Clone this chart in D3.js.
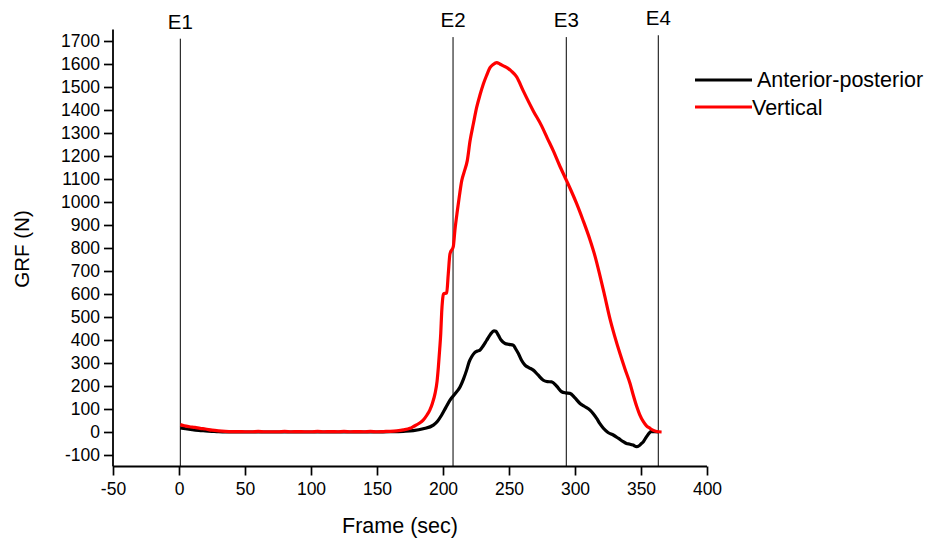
<!DOCTYPE html>
<html><head><meta charset="utf-8">
<script src="https://cdn.jsdelivr.net/npm/d3@7"></script>
<style>
body{margin:0;background:#fff;}
text{font-family:"Liberation Sans",Arial,sans-serif;fill:#000;}
</style></head>
<body><svg id="c" width="934" height="545"></svg>
<script>
// ---- data ----
const vertFrames = [1,4,8,12,16,20,25,30,35,40,45,50,55,60,65,70,75,80,85,90,95,100,105,110,115,120,125,130,135,140,145,150,155,160,165,170,175,178,182,185,188,190,192,194,195.5,196.5,197.5,198.3,199,199.6,200.3,202.8,204,205.3,207.8,209,210.9,212.5,214.2,216,218.4,220.5,223,225.5,228,230.5,233,235.6,238,240.7,243,245.7,249,252,255.8,260.8,268.4,274.7,279,283.6,288,293.6,297,301.1,306,311.4,315,318.9,322,326.5,330,334,338,341.7,344,346.7,349,351.8,354,356.8,359,361.9,365.6];
const vertValues = [32,27,23,20,16,13,8,5,3,2,2,1,1,3,1,1,1,3,1,2,1,1,3,1,2,1,3,1,2,1,3,1,2,3,5,9,16,25,38,52,75,95,125,168,220,283,360,429,520,570,600,605,688,775,806,876,963,1030,1093,1130,1180,1266,1340,1411,1465,1512,1550,1584,1598,1606,1600,1592,1582,1568,1544,1483,1396,1331,1278,1222,1163,1093,1050,995,922,835,768,680,605,492,418,342,272,211,163,112,76,45,28,16,8,2,0];
const apFrames = [1,5,10,15,20,25,30,35,40,60,80,100,120,140,150,160,170,177.5,185,192.7,196,199,202,205.3,209,212.9,215.5,217.9,219.8,221.7,224,226,228,230.5,233.1,236,238.6,240,241.9,244,247,250,253.3,255,257.1,259.5,262.1,265,268.4,272,276,279,282.3,286,289.9,293,296.2,300,303.8,307,311.4,314,316.4,319,321.5,325,329,333,336.6,339,341.7,344,346.7,348.5,350,351.8,354,356.8,358,360.6,363];
const apValues = [18,14,10,7,5,3,1,0,0,0,0,0,0,0,0,1,3,6,14,30,48,74,105,139,165,196,230,269,305,327,345,352,356,375,399,425,440,438,421,400,385,381,377,362,341,312,291,280,269,248,225,219,218,200,175,170,168,148,124,112,95,78,59,35,16,-2,-13,-28,-42,-50,-53,-57,-64,-60,-52,-42,-22,-1,3,1,0];
const eventNames = ["E1","E2","E3","E4"];
const eventFrames = [1,207.6,293.4,363.1];
const eventTops = [1710,1717,1717,1725];
const seriesNames = ["Anterior-posterior","Vertical"];
const seriesColors = ["#000000","#ff0000"];
const xTicks = [-50,0,50,100,150,200,250,300,350,400];
const yTicks = [-100,0,100,200,300,400,500,600,700,800,900,1000,1100,1200,1300,1400,1500,1600,1700];

// ---- layout ----
const svg = d3.select("#c");
const x = d3.scaleLinear().domain([-50,400]).range([113,707]);
const y = d3.scaleLinear().domain([-150,1750]).range([466.5,29.5]);
const fmt = v => String(v);

const xMinor = d3.range(-50,401,25).filter(v=>v%50!==0);
const yMinor = d3.range(-150,1751,50).filter(v=>v%100!==0);

const gx = svg.append("g").attr("transform",`translate(0,${y(-150)})`);
gx.call(d3.axisBottom(x).tickValues(xMinor).tickSize(5).tickFormat(""));
gx.call(d3.axisBottom(x).tickValues(xTicks).tickSize(9).tickPadding(7).tickFormat(fmt));
gx.selectAll("line").attr("stroke","#000").attr("stroke-width",1.7);
gx.selectAll("text").style("font-size","17.5px").attr("font-family","Liberation Sans, Arial, sans-serif");

const gy = svg.append("g").attr("transform",`translate(${x(-50)},0)`);
gy.call(d3.axisLeft(y).tickValues(yMinor).tickSize(5).tickFormat(""));
gy.call(d3.axisLeft(y).tickValues(yTicks).tickSize(9).tickPadding(4).tickFormat(fmt));
gy.selectAll("line").attr("stroke","#000").attr("stroke-width",1.7);
gy.selectAll("text").style("font-size","17.5px").attr("font-family","Liberation Sans, Arial, sans-serif");
gx.selectAll("path.domain").attr("stroke","#000").attr("stroke-width",1.8).attr("d",`M${x(-50)},0H${x(400)}`);
gy.selectAll("path.domain").attr("stroke","#000").attr("stroke-width",1.8).attr("d",`M0,${y(-150)}V${y(1750)}`);

// event lines
eventFrames.forEach((f,i)=>{
  svg.append("line").attr("x1",x(f)).attr("x2",x(f)).attr("y1",y(eventTops[i])).attr("y2",y(-150))
    .attr("stroke","#000").attr("stroke-width",1);
  svg.append("text").attr("x",x(f)).attr("y",y(eventTops[i])-10).attr("text-anchor","middle")
    .style("font-size","20.5px").text(eventNames[i]);
});

// curves
const line = d3.line().x(d=>x(d[0])).y(d=>y(d[1])).curve(d3.curveMonotoneX);
const apData = apFrames.map((f,i)=>[f,apValues[i]]);
const vData = vertFrames.map((f,i)=>[f,vertValues[i]]);
svg.append("path").datum(apData).attr("d",line).attr("fill","none").attr("stroke",seriesColors[0]).attr("stroke-width",3.2).attr("stroke-linejoin","round");
svg.append("path").datum(vData).attr("d",line).attr("fill","none").attr("stroke",seriesColors[1]).attr("stroke-width",3.2).attr("stroke-linejoin","round");

// axis titles
svg.append("text").attr("x",400).attr("y",533).attr("text-anchor","middle").style("font-size","21.5px").text("Frame (sec)");
svg.append("text").attr("transform","translate(29,249) rotate(-90)").attr("text-anchor","middle").style("font-size","20.5px").text("GRF (N)");

// legend
const lg = svg.append("g");
lg.append("line").attr("x1",695).attr("x2",752).attr("y1",80).attr("y2",80).attr("stroke",seriesColors[0]).attr("stroke-width",3.2);
lg.append("text").attr("x",757).attr("y",87).style("font-size","21.5px").text(seriesNames[0]);
lg.append("line").attr("x1",695).attr("x2",752).attr("y1",107).attr("y2",107).attr("stroke",seriesColors[1]).attr("stroke-width",3.2);
lg.append("text").attr("x",752).attr("y",115).style("font-size","21.5px").text(seriesNames[1]);
</script></body></html>
